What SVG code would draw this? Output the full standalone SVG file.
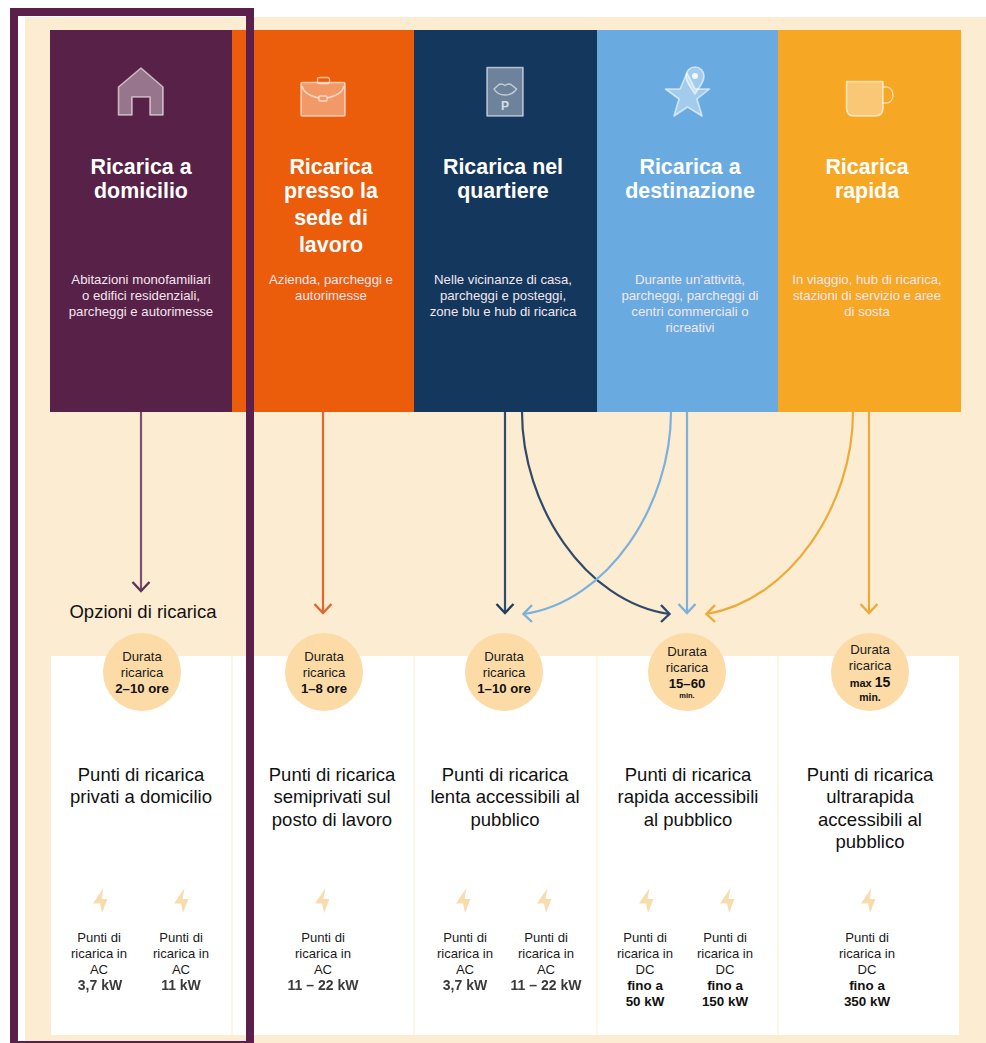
<svg xmlns="http://www.w3.org/2000/svg" width="986" height="1043" viewBox="0 0 986 1043">
<style>
text{font-family:"Liberation Sans",Arial,sans-serif;text-anchor:middle}
.title{font-size:21.4px;font-weight:700;fill:#fff}
.desc{font-size:13.2px;fill:#f3e6ee}
.dur{font-size:13.2px;fill:#1a1a1a}
.durb{font-size:13.2px;font-weight:700;fill:#111}
.big{font-size:18.5px;fill:#111}
.small{font-size:13.1px;fill:#1a1a1a}
.kw{font-size:14px;font-weight:700;fill:#3a3a3a;filter:url(#soft)}
.kwb{font-size:13.4px;font-weight:700;fill:#111}
.icon{fill:#fff;fill-opacity:.38;stroke:#fff;stroke-opacity:.6;stroke-width:1.6;stroke-linejoin:round}
.iconl{fill:none;stroke:#fff;stroke-opacity:.6;stroke-width:1.4}
.bolt{fill:#f9dcae}
.circle{fill:#fcdba7}
.card{fill:#fff}
.conn{fill:none;stroke-width:2.2}
.tip{fill:none;stroke-width:2.4}
</style>
<defs>
<filter id="soft" x="-10%" y="-20%" width="120%" height="140%"><feGaussianBlur stdDeviation="0.35"/></filter>
<path id="bolt" class="bolt" d="M2.500 0L-8 15.500H-1L1 25L6.500 11H.5Z"/>
</defs>

<rect x="25" y="17" width="961" height="1026" fill="#fcecd2"/>

<g id="card-1"><rect class="card" x="51" y="656" width="180.500" height="379"/>
<text class="big" x="141" y="781">Punti di ricarica</text><text class="big" x="141" y="803">privati a domicilio</text>
<use href="#bolt" x="101" y="888"/><use href="#bolt" x="182" y="888"/>
<text class="small" x="99" y="942">Punti di</text><text class="small" x="99" y="958">ricarica in</text><text class="small" x="99" y="974">AC</text><text class="kw" x="100" y="990">3,7 kW</text>
<text class="small" x="181" y="942">Punti di</text><text class="small" x="181" y="958">ricarica in</text><text class="small" x="181" y="974">AC</text><text class="kw" x="181" y="990">11 kW</text></g>

<g id="card-2"><rect class="card" x="232.500" y="656" width="181" height="379"/>
<text class="big" x="332" y="781">Punti di ricarica</text><text class="big" x="332" y="803">semiprivati sul</text><text class="big" x="332" y="826">posto di lavoro</text>
<use href="#bolt" x="323" y="888"/>
<text class="small" x="323" y="942">Punti di</text><text class="small" x="323" y="958">ricarica in</text><text class="small" x="323" y="974">AC</text><text class="kw" x="323" y="990">11 – 22 kW</text></g>

<g id="card-3"><rect class="card" x="414.500" y="656" width="182" height="379"/>
<text class="big" x="505" y="781">Punti di ricarica</text><text class="big" x="505" y="803">lenta accessibili al</text><text class="big" x="505" y="826">pubblico</text>
<use href="#bolt" x="464" y="888"/><use href="#bolt" x="545" y="888"/>
<text class="small" x="465" y="942">Punti di</text><text class="small" x="465" y="958">ricarica in</text><text class="small" x="465" y="974">AC</text><text class="kw" x="465" y="990">3,7 kW</text>
<text class="small" x="546" y="942">Punti di</text><text class="small" x="546" y="958">ricarica in</text><text class="small" x="546" y="974">AC</text><text class="kw" x="546" y="990">11 – 22 kW</text></g>

<g id="card-4"><rect class="card" x="597.500" y="656" width="180" height="379"/>
<text class="big" x="688" y="781">Punti di ricarica</text><text class="big" x="688" y="803">rapida accessibili</text><text class="big" x="688" y="826">al pubblico</text>
<use href="#bolt" x="647" y="888"/><use href="#bolt" x="728" y="888"/>
<text class="small" x="645" y="942">Punti di</text><text class="small" x="645" y="958">ricarica in</text><text class="small" x="645" y="974">DC</text><text class="kwb" x="645" y="990">fino a</text><text class="kwb" x="645" y="1006">50 kW</text>
<text class="small" x="725" y="942">Punti di</text><text class="small" x="725" y="958">ricarica in</text><text class="small" x="725" y="974">DC</text><text class="kwb" x="725" y="990">fino a</text><text class="kwb" x="725" y="1006">150 kW</text></g>

<g id="card-5"><rect class="card" x="778.500" y="656" width="180.500" height="379"/>
<text class="big" x="870" y="781">Punti di ricarica</text><text class="big" x="870" y="803">ultrarapida</text><text class="big" x="870" y="826">accessibili al</text><text class="big" x="870" y="848">pubblico</text>
<use href="#bolt" x="869" y="888"/>
<text class="small" x="867" y="942">Punti di</text><text class="small" x="867" y="958">ricarica in</text><text class="small" x="867" y="974">DC</text><text class="kwb" x="867" y="990">fino a</text><text class="kwb" x="867" y="1006">350 kW</text></g>

<g id="connectors">
<g stroke="#7b5070"><path class="conn" d="M141 412V590"/><path class="tip" stroke="#5f3355" d="M132.500 582L141 591L149.500 582"/></g>
<g stroke="#dc6a30"><path class="conn" d="M323 412V612"/><path class="tip" d="M314.500 604L323 613L331.500 604"/></g>
<g stroke="#2f4d6f"><path class="conn" d="M505 412V612"/><path class="tip" stroke="#1f3f63" d="M496.500 604L505 613L513.500 604"/></g>
<g stroke="#32496a"><path class="conn" d="M522 412C522 505 585 602 669 614"/><path class="tip" d="M661 605L669.500 614L661 622"/></g>
<g stroke="#7cb1dc"><path class="conn" d="M671 412C671 505 608 602 524 614"/><path class="tip" d="M532 605L523.500 614L532 622"/></g>
<g stroke="#7cb1dc"><path class="conn" d="M687 412V612"/><path class="tip" d="M678.500 604L687 613L695.500 604"/></g>
<g stroke="#eeaa38"><path class="conn" d="M853 412C853 505 790 600 707 614"/><path class="tip" d="M715 605L706.500 614L715 622"/></g>
<g stroke="#eeaa38"><path class="conn" d="M869 412V612"/><path class="tip" d="M860.500 604L869 613L877.500 604"/></g>
</g>

<g id="node-domicilio"><rect x="50" y="30" width="182" height="382" fill="#582147"/>
<path class="icon" fill-rule="evenodd" d="M141 68L163 87V115H150V97H132V115H118.500V87Z"/>
<text class="title" x="141" y="174">Ricarica a</text><text class="title" x="141" y="198">domicilio</text>
<text class="desc" x="141" y="284">Abitazioni monofamiliari</text><text class="desc" x="141" y="300">o edifici residenziali,</text><text class="desc" x="141" y="316">parcheggi e autorimesse</text></g>

<g id="node-lavoro"><rect x="232" y="30" width="182" height="382" fill="#eb5c0b"/>
<rect class="iconl" x="317.500" y="77.500" width="12" height="6" rx="2"/>
<rect class="icon" x="301" y="82.500" width="44" height="33.500" rx="1"/>
<path class="iconl" d="M302 86C304 95 314 97 319 98M327 98C332 97 342 95 344 86"/><rect class="iconl" x="319" y="96" width="8" height="5" rx="1"/>
<text class="title" x="331" y="174">Ricarica</text><text class="title" x="331" y="198">presso la</text><text class="title" x="331" y="225">sede di</text><text class="title" x="331" y="252">lavoro</text>
<text class="desc" x="331" y="284">Azienda, parcheggi e</text><text class="desc" x="331" y="300">autorimesse</text></g>

<g id="node-quartiere"><rect x="414" y="30" width="183" height="382" fill="#14375e"/>
<rect class="icon" x="487" y="67.500" width="36" height="48.500"/>
<path class="iconl" d="M494 89L499 84.500C501 83.500 503 84 505 85.500C507 84 509 83.500 511 84.500L516.500 89C513 94 509 95 505 95C501 95 497 94 494 89Z"/>
<text x="505" y="110" font-size="12" font-weight="700" fill="#d6dee7">P</text>
<text class="title" x="503" y="174">Ricarica nel</text><text class="title" x="503" y="198">quartiere</text>
<text class="desc" x="503" y="284">Nelle vicinanze di casa,</text><text class="desc" x="503" y="300">parcheggi e posteggi,</text><text class="desc" x="503" y="316">zone blu e hub di ricarica</text></g>

<g id="node-destinazione"><rect x="597" y="30" width="181" height="382" fill="#69abe0"/>
<path class="icon" d="M665.500 89H680L687 73L695 89H709.500L697 99L702 116L687.500 107L674 116L679 99Z"/>
<path class="icon" d="M695 94C691 87 686 83 686 76A9 9 0 0 1 704 76C704 83 699 87 695 94Z"/>
<circle cx="695" cy="76" r="3" fill="#fff" fill-opacity=".85"/>
<text class="title" x="690" y="174">Ricarica a</text><text class="title" x="690" y="198">destinazione</text>
<text class="desc" x="690" y="284">Durante un’attività,</text><text class="desc" x="690" y="300">parcheggi, parcheggi di</text><text class="desc" x="690" y="316">centri commerciali o</text><text class="desc" x="690" y="332">ricreativi</text></g>

<g id="node-rapida"><rect x="778" y="30" width="183" height="382" fill="#f6a723"/>
<path class="iconl" d="M883 87H887A6 8 0 0 1 887 103H882"/>
<path class="icon" d="M846.500 81.500H883V108C883 113 880 116 875 116H854C849 116 846.500 113 846.500 108Z"/>
<text class="title" x="867" y="174">Ricarica</text><text class="title" x="867" y="198">rapida</text>
<text class="desc" x="867" y="284">In viaggio, hub di ricarica,</text><text class="desc" x="867" y="300">stazioni di servizio e aree</text><text class="desc" x="867" y="316">di sosta</text></g>

<g id="label-opzioni"><text x="143" y="618" font-size="18.500" fill="#111">Opzioni di ricarica</text></g>

<g id="duration-1"><circle class="circle" cx="142" cy="672" r="39"/><text class="dur" x="142" y="661">Durata</text><text class="dur" x="142" y="677">ricarica</text><text class="durb" x="142" y="693">2–10 ore</text></g>
<g id="duration-2"><circle class="circle" cx="324" cy="672" r="39"/><text class="dur" x="324" y="661">Durata</text><text class="dur" x="324" y="677">ricarica</text><text class="durb" x="324" y="693">1–8 ore</text></g>
<g id="duration-3"><circle class="circle" cx="504" cy="672" r="39"/><text class="dur" x="504" y="661">Durata</text><text class="dur" x="504" y="677">ricarica</text><text class="durb" x="504" y="693">1–10 ore</text></g>
<g id="duration-4"><circle class="circle" cx="687" cy="672" r="39"/><text class="dur" x="687" y="656">Durata</text><text class="dur" x="687" y="672">ricarica</text><text class="durb" x="687" y="688" font-size="14">15–60</text><text x="687" y="698" font-size="7.500" font-weight="700" fill="#111">min.</text></g>
<g id="duration-5"><circle class="circle" cx="870" cy="672" r="39"/><text class="dur" x="870" y="654">Durata</text><text class="dur" x="870" y="670">ricarica</text><text x="870" y="687" font-size="11" font-weight="700" fill="#111">max <tspan font-size="14">15</tspan></text><text x="870" y="701" font-size="10.500" font-weight="700" fill="#111">min.</text></g>

<g id="frame"><rect x="18" y="16" width="7" height="1025" fill="#fff"/><path fill="#5a1f4b" fill-rule="evenodd" d="M10 8H254V1043H10ZM18 16V1041H246V16Z"/></g>
</svg>
